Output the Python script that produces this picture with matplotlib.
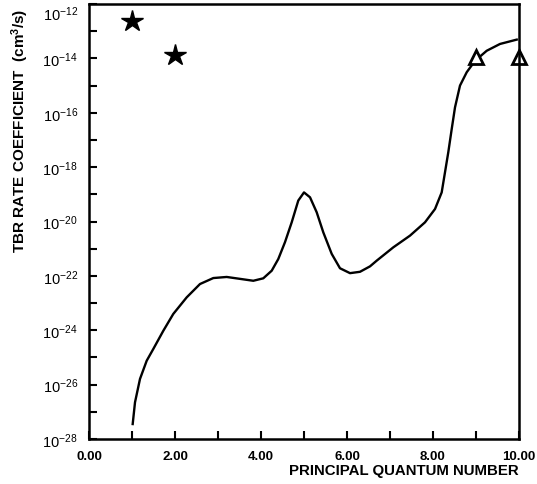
import numpy as np
import matplotlib
matplotlib.use("Agg")
import matplotlib.pyplot as plt

plt.rcParams['font.family'] = ['Liberation Sans', 'DejaVu Sans']
plt.rcParams['mathtext.default'] = 'regular'

# curve (n, log10 rate)
n_curve = [1.016, 1.070, 1.186, 1.342, 1.495, 1.728, 1.960, 2.272, 2.581, 2.891,
           3.202, 3.512, 3.821, 4.053, 4.249, 4.402, 4.558, 4.714, 4.867, 5.000,
           5.140, 5.295, 5.449, 5.644, 5.837, 6.070, 6.302, 6.535, 6.691, 7.077,
           7.465, 7.814, 8.047, 8.202, 8.279, 8.356, 8.435, 8.512, 8.628, 8.784,
           8.977, 9.249, 9.558, 9.947]
logk_curve = [-27.45, -26.65, -25.79, -25.12, -24.69, -24.02, -23.40, -22.79, -22.30, -22.08,
              -22.04, -22.11, -22.18, -22.09, -21.81, -21.38, -20.76, -20.03, -19.23, -18.93,
              -19.11, -19.66, -20.40, -21.19, -21.72, -21.90, -21.85, -21.65, -21.44, -20.95,
              -20.52, -20.03, -19.54, -18.93, -18.19, -17.45, -16.60, -15.80, -15.00, -14.51,
              -14.09, -13.72, -13.47, -13.31]

n_star = [1, 2]
k_star = [2.4e-13, 1.3e-14]
n_tri = [9, 10]
k_tri = [1.1e-14, 1.1e-14]

fig = plt.figure(figsize=(5.37, 4.85), dpi=100)
ax = fig.add_axes([89/537, 1-440/485, 430/537, 435/485])

ax.plot(n_curve, 10.0**np.array(logk_curve), color='black', lw=1.7,
        solid_joinstyle='round')
ax.plot(n_star, k_star, ls='none', marker='*', ms=16, color='black')
ax.plot(n_tri, k_tri, ls='none', marker='^', ms=10, mfc='white', mec='black', mew=2,
        clip_on=False)

ax.set_yscale('log')
ax.set_xlim(0, 10)
ax.set_ylim(1e-28, 1e-12)

ax.set_xticks(range(0, 11))
ax.set_xticklabels(['%.2f' % v if v % 2 == 0 else '' for v in range(0, 11)],
                   fontweight='bold', fontsize=9.5)
ax.set_yticks([10.0**e for e in range(-28, -11)])
ax.set_yticklabels(['$10^{%d}$' % e if e % 2 == 0 else '' for e in range(-28, -11)],
                   fontsize=10.5)
ax.get_yticklabels()[-1].set_va('top')  # keep 10^-12 inside the picture
ax.minorticks_off()
ax.tick_params(direction='in', length=6, width=1.5, top=False, right=False)
ax.tick_params(axis='x', pad=8)
ax.tick_params(axis='y', pad=8)
for s in ax.spines.values():
    s.set_linewidth(1.8)

fig.text(519/537, 1-471/485, 'PRINCIPAL QUANTUM NUMBER', ha='right', va='center',
         fontweight='bold', fontsize=10.8)
fig.text(20/537, 1-131/485, 'TBR RATE COEFFICIENT  (cm$^3$/s)', rotation=90,
         ha='center', va='center', fontweight='bold', fontsize=11)

fig.savefig('out.png', dpi=100)
